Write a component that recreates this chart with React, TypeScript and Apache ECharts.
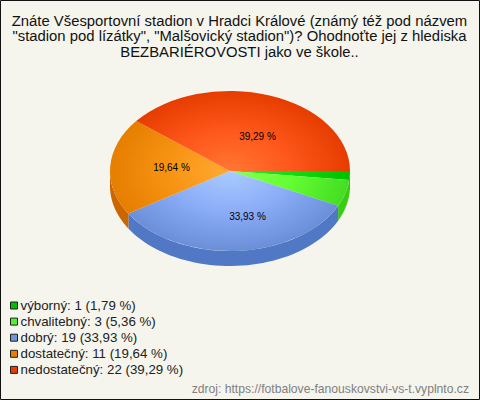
import React, { useEffect, useRef } from "react";
import * as echarts from "echarts";

const categories = ["výborný", "chvalitebný", "dobrý", "dostatečný", "nedostatečný"];
const counts = [1, 3, 19, 11, 22];
const percents = ["1,79", "5,36", "33,93", "19,64", "39,29"];
const titleLines = [
  "Znáte Všesportovní stadion v Hradci Králové (známý též pod názvem",
  "\"stadion pod lízátky\", \"Malšovický stadion\")? Ohodnoťte jej z hlediska",
  "BEZBARIÉROVOSTI jako ve škole..",
];
const sourceText = "zdroj: https://fotbalove-fanouskovstvi-vs-t.vyplnto.cz";

const lightColors = ["#22ee22", "#88ff55", "#aaccff", "#ffaa33", "#ff7733"];
const midColors = ["#11dd11", "#66ff33", "#8cadf8", "#f89414", "#ff581c"];
const edgeColors = ["#00c000", "#44dd22", "#6a8fd8", "#e67e00", "#e63c00"];
const sideColors = ["#009900", "#39cc11", "#5078c4", "#cc6600", "#cc3300"];
const legendColors = ["#00c000", "#55ee33", "#6f96dc", "#e67e00", "#e63c00"];
const labelOffsets: (number[] | null)[] = [null, null, [18, 45], [-58, -4], [28, -35]];

const CX = 230, CY = 171, RX = 120, RY = 80, DEPTH = 15;
const total = counts.reduce((a, b) => a + b, 0);

function sideRing(a0: number, a1: number) {
  const from = Math.max(a0, 0);
  const to = Math.min(a1, Math.PI);
  if (to <= from) return null;
  const top: number[][] = [];
  const bottom: number[][] = [];
  const steps = 48;
  for (let i = 0; i <= steps; i++) {
    const t = from + ((to - from) * i) / steps;
    const x = CX + RX * Math.cos(t);
    const y = CY + RY * Math.sin(t);
    top.push([x, y]);
    bottom.unshift([x, y + DEPTH]);
  }
  return top.concat(bottom);
}

export default function App() {
  const ref = useRef<HTMLDivElement>(null);
  useEffect(() => {
    document.body.style.margin = "0";
    const chart = echarts.init(ref.current!, undefined, { renderer: "svg" });
    let running = 0;
    const series = categories.map((name, i) => {
      const start = running;
      running += counts[i];
      const legendName = `${name}: ${counts[i]} (${percents[i]} %)`;
      return {
        type: "custom",
        name: legendName,
        coordinateSystem: "none",
        data: [[start, start + counts[i]]],
        itemStyle: { color: legendColors[i] },
        renderItem: (_p: any, api: any) => {
          const a0 = (api.value(0) / total) * Math.PI * 2;
          const a1 = (api.value(1) / total) * Math.PI * 2;
          const children: any[] = [];
          const ring = sideRing(a0, a1);
          if (ring) {
            children.push({
              type: "polygon",
              shape: { points: ring },
              style: { fill: sideColors[i] },
            });
          }
          children.push({
            type: "group",
            x: CX,
            y: CY,
            scaleY: RY / RX,
            children: [
              {
                type: "sector",
                shape: { cx: 0, cy: 0, r0: 0, r: RX, startAngle: a0, endAngle: a1 },
                style: {
                  fill: {
                    type: "radial",
                    x: 0,
                    y: 0,
                    r: RX,
                    global: true,
                    colorStops: [
                      { offset: 0, color: lightColors[i] },
                      { offset: 0.5, color: midColors[i] },
                      { offset: 1, color: edgeColors[i] },
                    ],
                  },
                },
              },
            ],
          });
          const off = labelOffsets[i];
          if (off) {
            children.push({
              type: "text",
              z2: 50,
              x: CX + off[0] - 0.5,
              y: CY + off[1],
              style: {
                text: `${percents[i]} %`,
                font: "10px 'Liberation Sans'",
                fill: "#000000",
                align: "center",
                verticalAlign: "middle",
              },
            });
          }
          return { type: "group", children };
        },
      };
    });
    chart.setOption({
      animation: false,
      backgroundColor: "#f5f5ed",
      legend: {
        orient: "vertical",
        left: 5,
        top: 294,
        itemWidth: 7,
        itemHeight: 7,
        itemGap: 3.1,
        icon: "rect",
        selectedMode: false,
        itemStyle: { borderColor: "#222222", borderWidth: 1 },
        textStyle: { fontFamily: "Liberation Sans", fontSize: 13.3, color: "#222222", padding: [0, 0, 0, -2] },
      },
      graphic: [
        {
          type: "rect",
          silent: true,
          shape: { x: 0.5, y: 0.5, width: 479, height: 399 },
          style: { fill: "none", stroke: "#111111", lineWidth: 1 },
        },
        ...titleLines.map((t, i) => ({
          type: "text",
          x: 239.5,
          y: 20.5 + i * 15.6,
          style: {
            text: t,
            font: "14.85px 'Liberation Sans'",
            fill: "#111111",
            align: "center",
            verticalAlign: "middle",
          },
        })),
        {
          type: "text",
          x: 469,
          y: 389,
          style: {
            text: sourceText,
            font: "12.15px 'Liberation Sans'",
            fill: "#808080",
            align: "right",
            verticalAlign: "middle",
          },
        },
      ],
      series,
    });
    return () => chart.dispose();
  }, []);
  return <div ref={ref} style={{ width: 480, height: 400 }} />;
}
